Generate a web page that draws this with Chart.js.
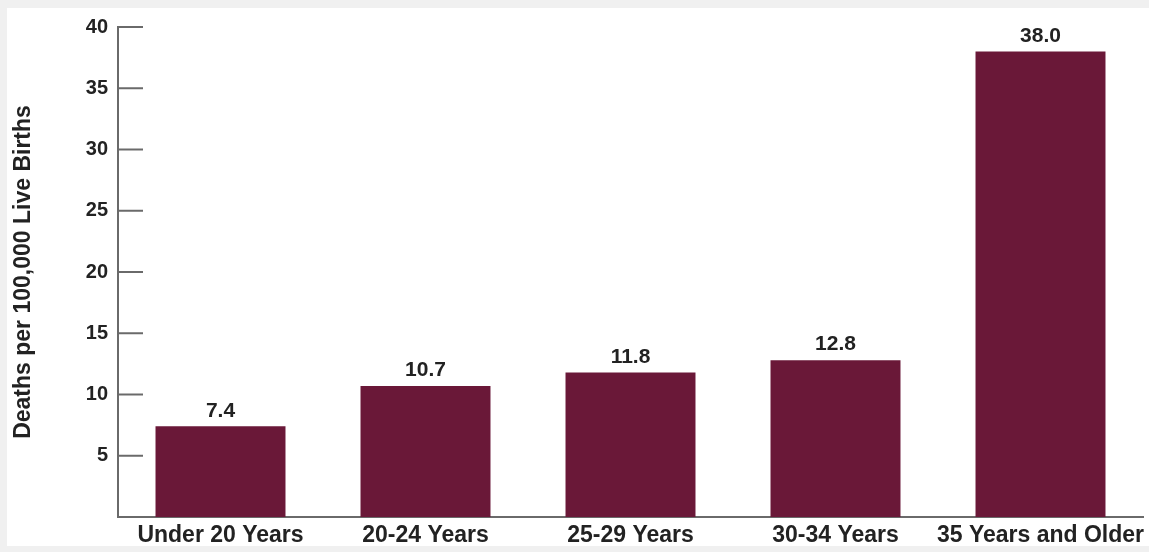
<!DOCTYPE html>
<html>
<head>
<meta charset="utf-8">
<script src="https://cdn.jsdelivr.net/npm/chart.js@4/dist/chart.umd.min.js"></script>
<style>
  html, body { margin: 0; padding: 0; background: #f0f0f0; }
  #wrap { position: relative; width: 1149px; height: 552px; overflow: hidden; }
  #paper { position: absolute; left: 7px; top: 8px; width: 1142px; height: 538px; background: #fff; }
  #chart { position: absolute; left: 0; top: 0; }
</style>
</head>
<body>
<div id="wrap">
  <div id="paper"></div>
  <canvas id="chart" width="1149" height="552"></canvas>
</div>
<script>
const categories = ['Under 20 Years', '20-24 Years', '25-29 Years', '30-34 Years', '35 Years and Older']
const deaths = [7.4, 10.7, 11.8, 12.8, 38.0]
const valueLabels = ['7.4', '10.7', '11.8', '12.8', '38.0']
const yTicks = [5, 10, 15, 20, 25, 30, 35, 40]

const axisColor = '#6a6a6a'
const barColor = '#6a1838'
const textColor = '#222'
const fontFamily = '"Liberation Sans", Arial, Helvetica, sans-serif'

// tick marks point into the plot, like the original
const innerTicks = {
  id: 'innerTicks',
  afterDraw: (chart) => {
    const ctx = chart.ctx
    const y = chart.scales.y
    const left = chart.chartArea.left
    ctx.save()
    ctx.strokeStyle = axisColor
    ctx.lineWidth = 2
    for (let v of yTicks) {
      const py = y.getPixelForValue(v)
      ctx.beginPath()
      ctx.moveTo(left, py)
      ctx.lineTo(left + 25, py)
      ctx.stroke()
    }
    ctx.restore()
  }
}

const barValues = {
  id: 'barValues',
  afterDatasetsDraw: (chart) => {
    const ctx = chart.ctx
    const meta = chart.getDatasetMeta(0)
    ctx.save()
    ctx.fillStyle = textColor
    ctx.font = 'bold 21px ' + fontFamily
    ctx.textAlign = 'center'
    ctx.textBaseline = 'bottom'
    meta.data.forEach((bar, i) => {
      ctx.fillText(valueLabels[i], bar.x, bar.y - 5)
    })
    ctx.restore()
  }
}

const config = {
  type: 'bar',
  data: {
    labels: categories,
    datasets: [{
      label: 'Deaths per 100,000 Live Births',
      data: deaths,
      backgroundColor: barColor,
      borderWidth: 0,
      barPercentage: 0.634,
      categoryPercentage: 1
    }]
  },
  options: {
    responsive: false,
    animation: false,
    layout: { padding: { top: 27, right: 6, left: 0, bottom: 0 } },
    plugins: {
      legend: { display: false },
      tooltip: { enabled: false }
    },
    scales: {
      x: {
        grid: { display: false, drawTicks: false },
        border: { display: true, color: axisColor, width: 2 },
        ticks: {
          color: textColor,
          font: { family: fontFamily, size: 23, weight: 'bold' },
          padding: 5,
          maxRotation: 0,
          autoSkip: false
        },
        afterFit: (scale) => {
          // last label runs off the edge in the original, so don't make room for it
          scale.height = 35
          scale.paddingLeft = 0
          scale.paddingRight = 0
        }
      },
      y: {
        min: 0,
        max: 40,
        grid: { display: false, drawTicks: false },
        border: { display: true, color: axisColor, width: 2 },
        ticks: {
          stepSize: 5,
          color: textColor,
          font: { family: fontFamily, size: 20, weight: 'bold' },
          padding: 10,
          callback: (v) => yTicks.includes(v) ? String(v) : ''
        },
        title: {
          display: true,
          text: 'Deaths per 100,000 Live Births',
          color: textColor,
          font: { family: fontFamily, size: 23, weight: 'bold' },
          padding: { top: 10, bottom: 0 }
        },
        afterFit: (scale) => { scale.width = 118 }
      }
    }
  },
  plugins: [innerTicks, barValues]
}

const mychart = new Chart(document.getElementById('chart').getContext('2d'), config)
</script>
</body>
</html>
